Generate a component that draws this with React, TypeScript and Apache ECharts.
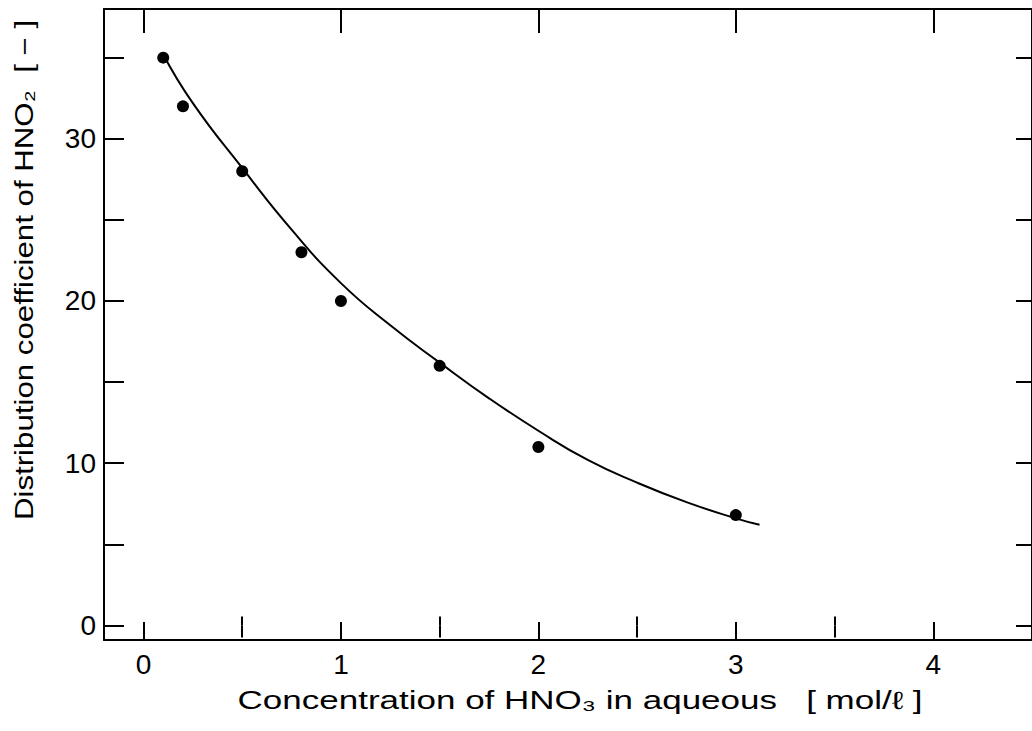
import React, { useEffect, useRef } from "react";
import * as echarts from "echarts";

// Measured points: concentration of HNO3 [mol/l] vs distribution coefficient of HNO2
const pointX = [0.1, 0.2, 0.5, 0.8, 1.0, 1.5, 2.0, 3.0];
const pointY = [35, 32, 28, 23, 20, 16, 11, 6.8];

// Fitted curve
const curveX = [0.1, 0.25, 0.5, 0.75, 1.0, 1.25, 1.5, 1.75, 2.0, 2.25, 2.5, 2.75, 3.0, 3.12];
const curveY = [35.2, 32.2, 28.2, 24.4, 21.1, 18.5, 16.2, 14.0, 12.0, 10.2, 8.8, 7.6, 6.6, 6.2];

const xMajorTicks = [0, 1, 2, 3, 4];
const xMinorTicks = [0.5, 1.5, 2.5, 3.5];
const yTicks = [0, 5, 10, 15, 20, 25, 30, 35];
const yLabels = [0, 10, 20, 30];

const xTitle = "Concentration of HNO\u2083 in aqueous   [ mol/\u2113 ]";
const yTitle = "Distribution coefficient of HNO\u2082  [ \u2212 ]";

const FONT = "'Liberation Sans', Arial, Helvetica, sans-serif";
const INK = "#000";

export default function App() {
  const ref = useRef<HTMLDivElement>(null);

  useEffect(() => {
    if (!ref.current) return;
    const chart = echarts.init(ref.current, null, { renderer: "svg" });
    const line = { show: true, lineStyle: { color: INK, width: 2 } };
    const noLine = { show: false };
    const tickStyle = { color: INK, width: 2 };
    const option: any = {
      animation: false,
      backgroundColor: "#fff",
      grid: { left: 104, top: 9, width: 932, height: 631 },
      xAxis: [
        {
          type: "value", position: "bottom", min: -0.2, max: 4.5,
          axisLine: { ...line, onZero: false },
          splitLine: { show: false },
          axisTick: { show: true, inside: true, length: 18, customValues: xMajorTicks, lineStyle: tickStyle },
          axisLabel: { show: true, customValues: xMajorTicks, fontSize: 28, color: INK, fontFamily: FONT, margin: 10 },
        },
        {
          type: "value", position: "bottom", min: -0.2, max: 4.5,
          axisLine: noLine, splitLine: { show: false },
          axisTick: { show: true, inside: true, length: 9, customValues: xMinorTicks, lineStyle: tickStyle },
          axisLabel: { show: false },
        },
        {
          type: "value", position: "top", min: -0.2, max: 4.5,
          axisLine: { ...line, onZero: false },
          splitLine: { show: false },
          axisTick: { show: true, inside: true, length: 24, customValues: xMajorTicks, lineStyle: tickStyle },
          axisLabel: { show: false },
        },
        {
          type: "value", position: "top", min: -0.2, max: 4.5,
          axisLine: noLine, splitLine: { show: false },
          axisTick: { show: true, inside: true, length: 12, customValues: xMinorTicks, lineStyle: tickStyle },
          axisLabel: { show: false },
        },
      ],
      yAxis: [
        {
          type: "value", position: "left", min: -0.9, max: 38,
          axisLine: { ...line, onZero: false },
          splitLine: { show: false },
          axisTick: { show: true, inside: true, length: 20, customValues: yTicks, lineStyle: tickStyle },
          axisLabel: { show: true, customValues: yLabels, fontSize: 28, color: INK, fontFamily: FONT, margin: 8 },
        },
        {
          type: "value", position: "right", min: -0.9, max: 38,
          axisLine: { ...line, onZero: false },
          splitLine: { show: false },
          axisTick: { show: true, inside: true, length: 16, customValues: yTicks, lineStyle: tickStyle },
          axisLabel: { show: false },
        },
      ],
      graphic: [
        {
          type: "text", x: 580, y: 700, scaleX: 1.4,
          style: { text: xTitle, fontSize: 25, fill: INK, fontFamily: FONT, align: "center", verticalAlign: "middle" },
        },
        {
          type: "text", x: 24, y: 270, rotation: Math.PI / 2, scaleX: 1.25,
          style: { text: yTitle, fontSize: 25, fill: INK, fontFamily: FONT, align: "center", verticalAlign: "middle" },
        },
      ],
      series: [
        {
          type: "line", xAxisIndex: 0, yAxisIndex: 0,
          data: curveX.map((x, i) => [x, curveY[i]]),
          smooth: 0.5, showSymbol: false, symbol: "none",
          lineStyle: { color: INK, width: 2 },
          silent: true,
        },
        {
          type: "scatter", xAxisIndex: 0, yAxisIndex: 0,
          data: pointX.map((x, i) => [x, pointY[i]]),
          symbol: "circle", symbolSize: 12,
          itemStyle: { color: INK, opacity: 1 },
        },
      ],
    };
    chart.setOption(option);
    return () => chart.dispose();
  }, []);

  return (
    <div
      ref={ref}
      style={{ position: "fixed", left: 0, top: 0, width: 1032, height: 731, background: "#fff" }}
    />
  );
}
